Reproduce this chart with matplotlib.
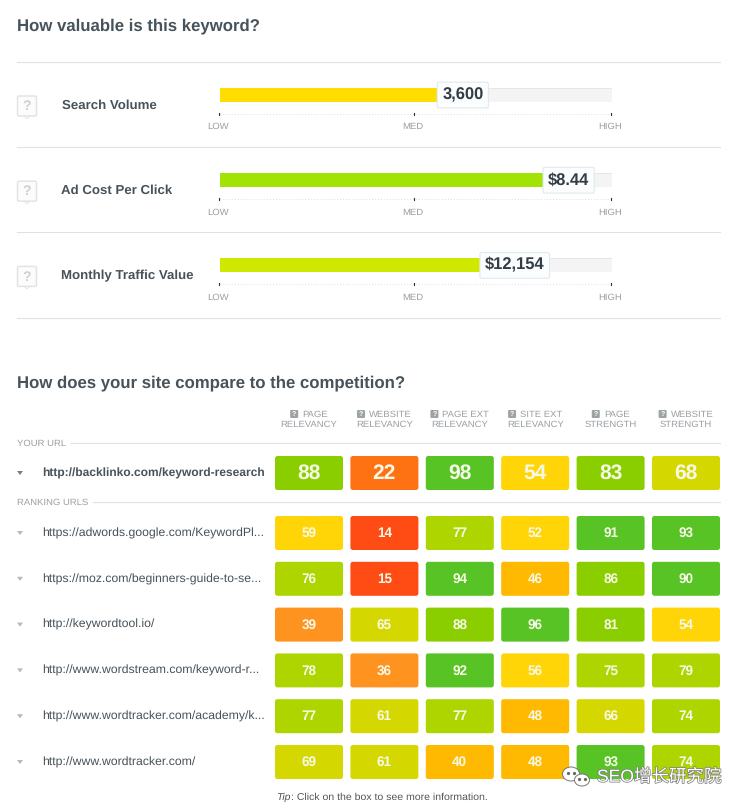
import matplotlib
matplotlib.use('Agg')
import matplotlib.pyplot as plt
from matplotlib.patches import FancyBboxPatch, Ellipse, Polygon
import matplotlib.patheffects as pe
import numpy as np

plt.rcParams['font.family'] = ['Liberation Sans', 'Noto Sans CJK SC', 'DejaVu Sans']
plt.rcParams['text.hinting'] = 'none'
plt.rcParams['text.kerning_factor'] = 0

W, H = 745, 809

#关键词指标
metric_names = ['Search Volume', 'Ad Cost Per Click', 'Monthly Traffic Value']
metric_labels = ['3,600', '$8.44', '$12,154']
metric_fill = [55.4, 82.4, 66.3]  # share of the LOW..HIGH track
metric_colors = ['#ffdd00', '#a2e305', '#cfe800']

#竞争对比
column_top = ['PAGE', 'WEBSITE', 'PAGE EXT', 'SITE EXT', 'PAGE', 'WEBSITE']
column_bottom = ['RELEVANCY', 'RELEVANCY', 'RELEVANCY', 'RELEVANCY', 'STRENGTH', 'STRENGTH']
your_url = 'http://backlinko.com/keyword-research'
your_scores = [88, 22, 98, 54, 83, 68]
ranking_urls = ['https://adwords.google.com/KeywordPl...',
                'https://moz.com/beginners-guide-to-se...',
                'http://keywordtool.io/',
                'http://www.wordstream.com/keyword-r...',
                'http://www.wordtracker.com/academy/k...',
                'http://www.wordtracker.com/']
ranking_scores = [[59, 14, 77, 52, 91, 93],
                  [76, 15, 94, 46, 86, 90],
                  [39, 65, 88, 96, 81, 54],
                  [78, 36, 92, 56, 75, 79],
                  [77, 61, 77, 48, 66, 74],
                  [69, 61, 40, 48, 93, 74]]

score_bins = [20, 30, 40, 50, 60, 70, 80, 90]
score_colors = ['#ff4b14', '#ff7213', '#ff931f', '#ffb900', '#ffd507',
                '#d5d800', '#aed500', '#8bce00', '#58c324']

DARK = '#47525a'
GREY = '#9a9fa3'
LINE = '#dfe1e2'


def px(size):
    return size * 0.72


fig = plt.figure(figsize=(W / 100, H / 100), dpi=100, facecolor='white')
ax = fig.add_axes([0, 0, 1, 1])
ax.set_xlim(0, W)
ax.set_ylim(H, 0)
ax.axis('off')
renderer = fig.canvas.get_renderer()

ax.text(17, 26.5, 'How valuable is this keyword?', fontsize=px(16.7), fontweight='bold',
        color=DARK, va='center')
ax.text(17, 383.5, 'How does your site compare to the competition?', fontsize=px(16.7),
        fontweight='bold', color=DARK, va='center')

for y in [62, 147, 232, 318]:
    ax.plot([17, 720], [y, y], color=LINE, lw=0.8)

#上半部分：三个指标条
track_left, track_right = 220, 612
for i, name in enumerate(metric_names):
    top = 87.5 + 85.2 * i
    # help box
    ax.add_patch(FancyBboxPatch((17.5, top + 8.5), 19, 20, boxstyle='round,pad=0,rounding_size=1.5',
                                fc='#fcfcfc', ec='#e2e2e2', lw=1))
    ax.add_patch(Polygon([(24, top + 28.5), (30, top + 28.5), (27, top + 31)], fc='#fcfcfc',
                         ec='#e2e2e2', lw=0.6))
    ax.text(27, top + 19, '?', fontsize=px(14), color='#cfcfcf', fontweight='bold',
            ha='center', va='center')
    ax.text([62, 61, 61][i], top + 18, name, fontsize=px(13.3), fontweight='bold', color=DARK,
            va='center')

    # dotted scale
    ax.plot([track_left, track_right], [top + 26, top + 26], color='#dddddd', lw=0.7, ls=(0, (1, 2)))
    for x, lab in zip([219, 414, 611], ['LOW', 'MED', 'HIGH']):
        ax.plot([x, x], [top + 25, top + 27], color='#333333', lw=0.8)
        ax.text(x - 1, top + 39.5, lab, fontsize=px(9.5), color=GREY, ha='center', va='center')

    bar_ax = fig.add_axes([track_left / W, 1 - (top + 14) / H, (track_right - track_left) / W, 14 / H])
    bar_ax.set_xlim(0, 100)
    bar_ax.set_ylim(0, 1)
    bar_ax.axis('off')
    bar_ax.barh(0.5, 100, height=1, color='#f4f4f4', edgecolor='#e6e6e6', lw=0.7)
    bar_ax.barh(0.5, metric_fill[i], height=1, color=metric_colors[i])
    bar_ax.annotate(metric_labels[i], xy=(metric_fill[i], 0.5), xytext=(5, -0.5),
                    textcoords='offset pixels', fontsize=px(16.5), fontweight='bold',
                    color='#333d45', va='center', ha='left', annotation_clip=False,
                    bbox=dict(boxstyle='round,pad=0.3,rounding_size=0.1', fc='#fbfdfe',
                              ec='#dfeaef', lw=0.8))

#下半部分：表头
col_left = 275
col_step = 75.4
col_width = 68
row_height = 34
for c in range(6):
    cx = col_left + col_step * c + col_width / 2
    t = ax.text(cx + 6, 414.5, column_top[c], fontsize=px(9.5), color=GREY, ha='center', va='center')
    ax.text(cx, 425, column_bottom[c], fontsize=px(9.5), color=GREY, ha='center', va='center')
    # icon sits just left of the first header word
    left = t.get_window_extent(renderer).x0
    ax.add_patch(FancyBboxPatch((left - 12, 410), 8, 8, boxstyle='round,pad=0,rounding_size=1',
                                fc='#9da2a5', ec='none'))
    ax.text(left - 8, 414.2, '?', fontsize=px(7), color='white', fontweight='bold',
            ha='center', va='center')

ax.text(17, 443.5, 'YOUR URL', fontsize=px(9.5), color=GREY, va='center')
ax.plot([71, 720], [443, 443], color=LINE, lw=0.8)
ax.text(17, 502.5, 'RANKING URLS', fontsize=px(9.5), color=GREY, va='center')
ax.plot([93, 720], [502, 502], color=LINE, lw=0.8)


def draw_row(y, url, scores, big):
    cy = y + row_height / 2
    ax.add_patch(Polygon([(17, cy - 2), (23, cy - 2), (20, cy + 2)], fc='#777f85' if big else '#b4b9bc',
                         ec='none'))
    ax.text(42, cy + 0.3, url, fontsize=px(12 if big else 12.3), color=DARK, va='center',
            fontweight='bold' if big else 'normal')
    for c, score in enumerate(scores):
        x = col_left + col_step * c
        color = score_colors[np.digitize(score, score_bins)]
        ax.add_patch(FancyBboxPatch((x, y), col_width, row_height,
                                    boxstyle='round,pad=0,rounding_size=2.5', fc=color, ec='none'))
        ax.text(x + col_width / 2, cy + 0.5, str(score), fontsize=px(21 if big else 13.5), color='#f7f9e8',
                fontweight='bold', ha='center', va='center')


draw_row(456, your_url, your_scores, True)
for r, url in enumerate(ranking_urls):
    draw_row(516 + 45.8 * r, url, ranking_scores[r], False)

ax.text(276, 797, 'Tip', fontsize=px(10.5), style='italic', color='#555555', va='center')
ax.text(291, 797, ': Click on the box to see more information.', fontsize=px(10.5), color='#555555',
        va='center')

#水印
outline = [pe.withStroke(linewidth=1.1, foreground='#808080')]
ax.text(597, 777, 'SEO增长研究院', fontsize=px(17.5), color='white', va='center', path_effects=outline)
for (ex, ey, ew, eh) in [(571, 774, 17, 14), (582, 780, 15, 12)]:
    ax.add_patch(Ellipse((ex, ey), ew, eh, fc='white', ec='#777777', lw=0.7))
for (dx, dy) in [(568, 773), (574, 773), (579, 779), (585, 779)]:
    ax.plot(dx, dy, 'o', ms=1.3, color='#666666')

fig.savefig('out.png', dpi=100)
